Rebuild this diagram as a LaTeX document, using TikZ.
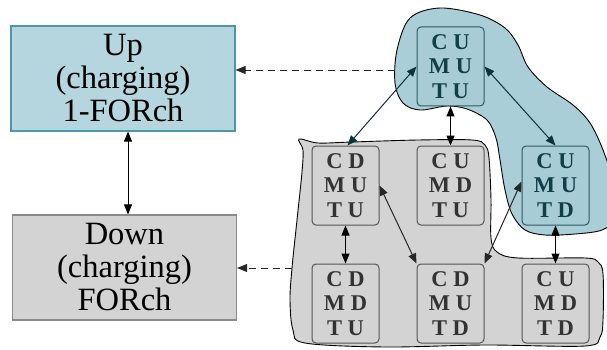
\documentclass[tikz,border=0pt]{standalone}
\usepackage{fontspec}
\setmainfont{Liberation Serif}
\usetikzlibrary{arrows.meta}
\definecolor{upfill}{HTML}{B5D6DE}
\definecolor{upline}{HTML}{4A98AA}
\definecolor{blobblue}{HTML}{AACED7}
\definecolor{boxblue}{HTML}{A8CCD5}
\definecolor{lineblue}{HTML}{2C5A65}
\definecolor{textblue}{HTML}{103E49}
\definecolor{greyfill}{HTML}{D3D3D3}
\definecolor{greyline}{HTML}{8A8A8A}
\definecolor{boxline}{HTML}{555555}
\definecolor{textgrey}{HTML}{333333}
\tikzset{
  bigbox/.style={draw, line width=1.2pt, minimum width=224pt, minimum height=105pt,
    inner sep=0pt, align=center, font=\fontsize{32.5}{33}\selectfont},
  statebox/.style={draw=boxline, fill=greyfill, line width=1pt, rounded corners=4pt,
    minimum width=67pt, minimum height=79pt, inner sep=0pt, align=center,
    text=textgrey, font=\fontsize{22.5}{24.2}\selectfont\bfseries},
  bluestate/.style={statebox, draw=lineblue, fill=boxblue, text=textblue},
  blob/.style={draw=black, line width=0.9pt},
  tip/.style={Triangle[length=10pt,width=8pt]},
  link/.style={{Triangle[length=10pt,width=8pt]}-{Triangle[length=10pt,width=8pt]}, line width=1pt},
  glink/.style={link, draw=black!85},
  tlink/.style={link, draw=textblue!80!black},
  group/.style={-{Triangle[length=10pt,width=8pt]}, line width=0.9pt, dash pattern=on 7pt off 5pt, draw=black!85}
}
\begin{document}
\begin{tikzpicture}[x=1pt,y=-1pt]
\useasboundingbox (0,0) rectangle (607,350);

% grey region around the states with the car discharging side
\draw[blob, fill=greyfill] plot[smooth cycle, tension=0.55] coordinates {
  (299,139) (318,143) (352,142) (418,140) (472,140) (485,145) (489,158)
  (491,200) (491,238) (497,252) (518,258) (585,258) (598,262) (603,274)
  (603,320) (600,337) (585,346) (485,345) (385,347) (305,343) (293,330)
  (290,300) (292,268) (297,220) (302,172) (303,150)};

% blue region around the two charging states
\begin{scope}
\clip (0,0) rectangle (607,350);
\draw[blob, fill=blobblue] plot[smooth cycle, tension=0.55] coordinates {
  (397,50) (410,18) (440,8) (480,15) (505,28) (518,45) (528,67) (547,87)
  (573,105) (590,123) (603,150) (614,185) (614,218) (602,230) (575,234)
  (545,235) (525,230) (512,214) (505,190) (500,160) (496,138) (487,120)
  (467,109) (447,106) (420,110) (403,103) (395,83)};
\end{scope}

\coordinate (bluetail) at (395,70);
\coordinate (greytail) at (292,268);

% aggregated states
\node[bigbox, draw=upline, fill=upfill] (up) at (123,78.5) {Up\\(charging)\\1-FORch};
\node[bigbox, draw=greyline, fill=greyfill] (down) at (124.5,267.5) {Down\\(charging)\\FORch};

% component states
\node[bluestate] (cumutu) at (450.5,66.5) {C U\\M U\\T U};
\node[statebox]  (cdmutu) at (345.5,185.5) {C D\\M U\\T U};
\node[statebox]  (cumdtu) at (450.5,185.5) {C U\\M D\\T U};
\node[bluestate] (cumutd) at (555.5,185.5) {C U\\M U\\T D};
\node[statebox]  (cdmdtu) at (345.5,303.5) {C D\\M D\\T U};
\node[statebox]  (cdmutd) at (450.5,303.5) {C D\\M U\\T D};
\node[statebox]  (cumdtd) at (555.5,303.5) {C U\\M D\\T D};

% transitions
\draw[link] ([xshift=5pt]up.south) -- ([xshift=3.5pt]down.north);
\draw[tlink] (cumutu.west) -- ([xshift=2pt]cdmutu.north);
\draw[link] (cumutu.south) -- (cumdtu.north);
\draw[tlink] (cumutu.east) -- (cumutd.north);
\draw[link] (cdmutu.south) -- (cdmdtu.north);
\draw[glink] (cdmutu.east) -- (cdmutd.north west);
\draw[glink] ([yshift=4pt]cumutd.west) -- (cdmutd.north east);
\draw[link] (cumutd.south) -- (cumdtd.north);

% grouping into the aggregated states
\draw[group] (bluetail) -- (bluetail -| up.east);
\draw[group] (greytail) -- (greytail -| down.east);
\end{tikzpicture}
\end{document}
